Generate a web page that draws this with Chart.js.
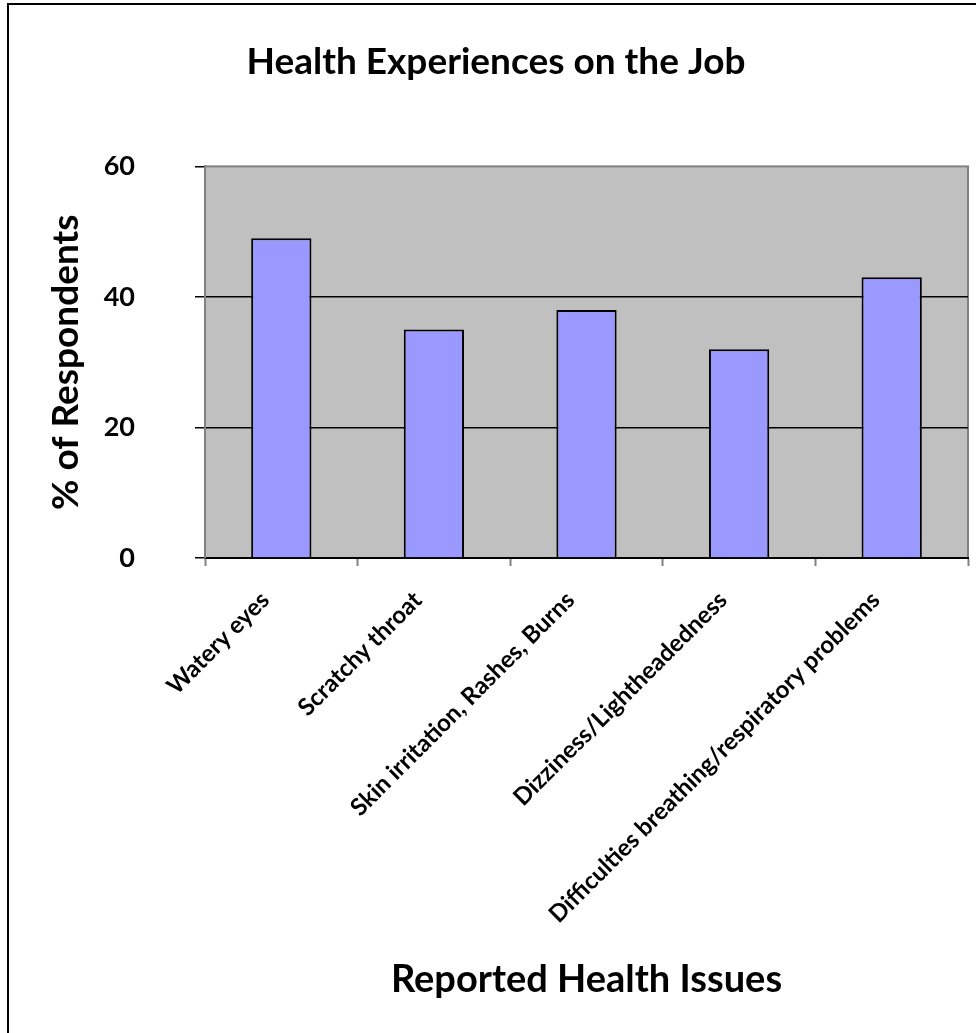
<!DOCTYPE html>
<html>
<head>
<meta charset="utf-8">
<title>Health Experiences on the Job</title>
<script src="https://cdn.jsdelivr.net/npm/chart.js@4/dist/chart.umd.min.js"></script>
<style>
  html, body { margin: 0; padding: 0; background: #fff; }
  canvas { display: block; }
</style>
</head>
<body>
<canvas id="myChart" width="976" height="1033"></canvas>
<script>
var categories = [
  "Watery eyes",
  "Scratchy throat",
  "Skin irritation, Rashes, Burns",
  "Dizziness/Lightheadedness",
  "Difficulties breathing/respiratory problems"
];
var respondentPct = [49, 35, 38, 32, 43];
var yTickValues = [0, 20, 40, 60];

var fontFamily = 'Lato, "Open Sans", sans-serif';

// grey plot area + outer frame, Excel 2003 style
var plotAreaPlugin = {
  id: 'plotArea',
  beforeDraw: function (chart) {
    var ctx = chart.ctx;
    var a = chart.chartArea;
    ctx.save();
    ctx.fillStyle = '#ffffff';
    ctx.fillRect(0, 0, chart.width, chart.height);
    ctx.fillStyle = '#c0c0c0';
    ctx.fillRect(a.left, a.top, a.right - a.left, a.bottom - a.top);
    ctx.strokeStyle = '#808080';
    ctx.lineWidth = 2;
    ctx.strokeRect(a.left, a.top, a.right - a.left, a.bottom - a.top);
    // chart frame (right and bottom run off the picture)
    ctx.strokeStyle = '#000000';
    ctx.lineWidth = 2;
    ctx.beginPath();
    ctx.moveTo(8, chart.height + 5);
    ctx.lineTo(8, 4);
    ctx.lineTo(chart.width + 5, 4);
    ctx.stroke();
    ctx.restore();
  }
};

var chart = new Chart(document.getElementById('myChart').getContext('2d'), {
  type: 'bar',
  data: {
    labels: categories,
    datasets: [{
      data: respondentPct,
      backgroundColor: '#9999ff',
      borderColor: '#000000',
      borderWidth: 2,
      barPercentage: 0.395,
      categoryPercentage: 1.0
    }]
  },
  options: {
    responsive: false,
    animation: false,
    layout: { padding: { left: 24, right: 8, top: 0, bottom: 0 } },
    plugins: {
      legend: { display: false },
      tooltip: { enabled: false },
      title: {
        display: true,
        text: 'Health Experiences on the Job',
        color: '#000',
        font: { family: fontFamily, size: 37, weight: 'bold' },
        padding: { top: 40, bottom: 82 }
      }
    },
    scales: {
      x: {
        grid: {
          offset: true,
          drawOnChartArea: false,
          drawTicks: true,
          tickLength: 8,
          tickColor: '#808080',
          tickWidth: 2
        },
        border: { display: true, color: '#000', width: 2 },
        ticks: {
          color: '#000',
          font: { family: fontFamily, size: 24, weight: 'bold' },
          minRotation: 45,
          maxRotation: 45,
          autoSkip: false,
          padding: 20,
          labelOffset: -16
        },
        title: {
          display: true,
          text: 'Reported Health Issues',
          color: '#000',
          font: { family: fontFamily, size: 38, weight: 'bold' },
          padding: { top: 0, bottom: 30 }
        },
        afterFit: function (scale) { scale.height = 475; }
      },
      y: {
        min: 0,
        max: 60,
        afterBuildTicks: function (scale) {
          scale.ticks = yTickValues.map(function (v) { return { value: v }; });
        },
        grid: {
          color: function (c) {
            var v = c.tick ? c.tick.value : null;
            return (v === 0 || v === 60) ? 'rgba(0,0,0,0)' : '#000';
          },
          lineWidth: 1.5,
          drawTicks: true,
          tickLength: 10,
          tickColor: '#000',
          tickWidth: 1.5
        },
        border: { display: true, color: '#808080', width: 2 },
        ticks: {
          color: '#000',
          font: { family: fontFamily, size: 27, weight: 'bold' },
          padding: 60
        },
        title: {
          display: true,
          text: '% of Respondents',
          color: '#000',
          font: { family: fontFamily, size: 37, weight: 'bold' },
          padding: { top: 20, bottom: 0 }
        },
        afterFit: function (scale) { scale.width = 181; }
      }
    }
  },
  plugins: [plotAreaPlugin]
});
</script>
</body>
</html>
